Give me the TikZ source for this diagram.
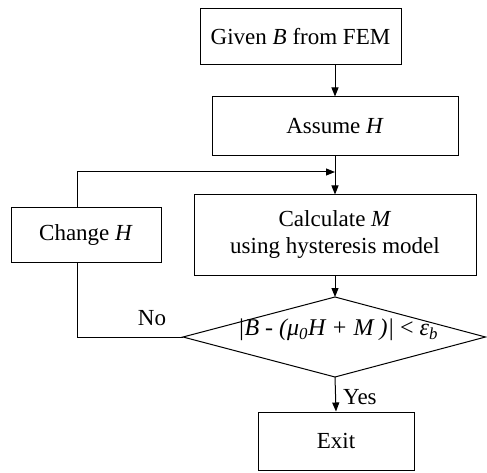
\documentclass[tikz,border=0pt]{standalone}
\usepackage{fontspec}
\setmainfont{Liberation Serif}
\usetikzlibrary{arrows.meta}
\begin{document}
\begin{tikzpicture}[x=1pt,y=-1pt,font=\fontsize{23}{27}\selectfont,
  box/.style={draw,line width=1pt,inner sep=0pt,align=center},
  arr/.style={-{Triangle[length=9pt,width=7pt]},line width=1pt},
  ln/.style={line width=1pt}]
\useasboundingbox (0,0) rectangle (487,473);
\node[box,minimum width=201pt,minimum height=56pt] (given) at (300.5,37) {Given \textit{B} from FEM};
\node[box,minimum width=246pt,minimum height=59pt] (assume) at (335,126.5) {Assume \textit{H}};
\node[box,minimum width=282pt,minimum height=80pt] (calc) at (335,235) {Calculate \textit{M}\\using hysteresis model};
\node[box,minimum width=150pt,minimum height=54pt] (change) at (86,235) {Change \textit{H}};
\node[box,minimum width=156pt,minimum height=58pt] (exit) at (336,441) {Exit};
\coordinate (j) at (335,172);
\coordinate (lt) at (77,172);
\coordinate (dT) at (335,297);
\coordinate (dL) at (183,337);
\coordinate (dR) at (485.5,337);
\coordinate (dB) at (335,377);
\draw[ln] (dT) -- (dR) -- (dB) -- (dL) -- cycle;
\node[font=\fontsize{24}{28}\selectfont] (cond) at (338,330) {\textit{|B - (μ\textsubscript{0}H + M )|} < \textit{ε\textsubscript{b}}};
\draw[arr] (assume.north |- given.south) -- (assume.north);
\draw[arr] (assume.south) -- (calc.north);
\draw[arr] (change.north -| lt) -- (lt) -- (j);
\draw[arr] (calc.south) -- (dT);
\draw[ln] (dL) -- (dL -| lt) -- (change.south -| lt);
\draw[arr] (dB) -- (exit.north);
\node (no) at (152,318) {No};
\node[anchor=west,inner sep=1pt] (yes) at (342,397) {Yes};
\end{tikzpicture}
\end{document}
